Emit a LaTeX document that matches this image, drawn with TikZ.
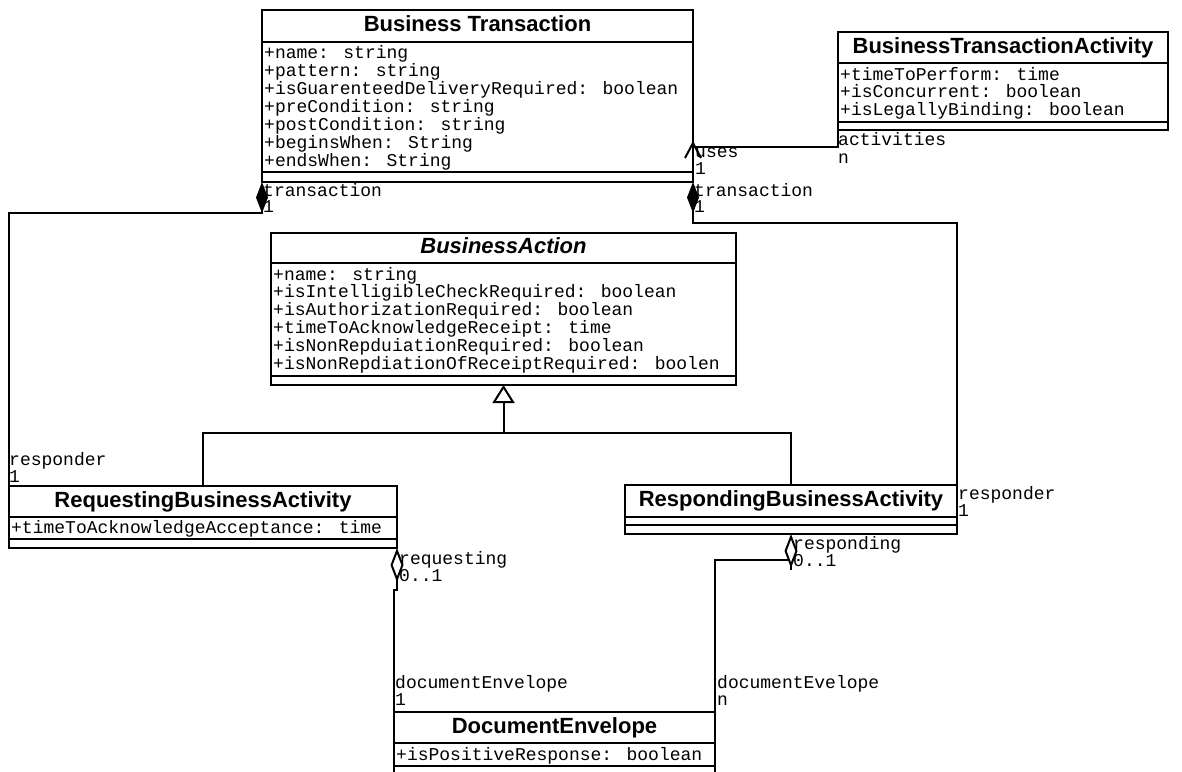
\documentclass[tikz,border=0pt]{standalone}
\usepackage{fontspec}
\setmainfont{Liberation Sans}
\newfontfamily\umlmono{Liberation Mono}
\usetikzlibrary{arrows.meta}
\begin{document}
\begin{tikzpicture}[x=1pt,y=-1pt,
  hdr/.style={draw, line width=2pt, inner sep=0pt, outer sep=0pt, anchor=north west,
    font=\fontsize{22}{26}\selectfont\bfseries, text height=15.8pt, text depth=4.2pt},
  cmp/.style={draw, line width=2pt, inner sep=0pt, outer sep=0pt, anchor=north west},
  attr/.style={inner sep=0pt, anchor=base west, font=\umlmono\fontsize{18}{18}\selectfont},
  conn/.style={line width=2pt},
  filldia/.style={-{Diamond[length=31pt,width=12pt]}},
  opendia/.style={-{Diamond[length=34pt,width=13pt,fill=white]}},
  gentri/.style={-{Triangle[length=18pt,width=22pt,fill=white]}}
]
\path[use as bounding box, fill=white] (0,0) rectangle (1182,771);

% Business Transaction
\node[hdr, minimum width=431pt, minimum height=32pt] (bth) at (262,10) {Business Transaction};
\node[cmp, minimum width=431pt, minimum height=130pt] (bta) at (bth.south west) {};
\node[cmp, minimum width=431pt, minimum height=10pt] (bto) at (bta.south west) {};
\foreach \t [count=\i] in {{+name: string},{+pattern: string},{+isGuarenteedDeliveryRequired: boolean},{+preCondition: string},{+postCondition: string},{+beginsWhen: String},{+endsWhen: String}}
  \node[attr] (bttxt\i) at (264,{58+18*(\i-1)}) {\t};

% BusinessTransactionActivity
\node[hdr, minimum width=330pt, minimum height=31pt] (btah) at (838,32) {BusinessTransactionActivity};
\node[cmp, minimum width=330pt, minimum height=59pt] (btaa) at (btah.south west) {};
\node[cmp, minimum width=330pt, minimum height=8pt] (btao) at (btaa.south west) {};
\foreach \t [count=\i] in {{+timeToPerform: time},{+isConcurrent: boolean},{+isLegallyBinding: boolean}}
  \node[attr] (btatxt\i) at (840,{80+17.5*(\i-1)}) {\t};

% BusinessAction
\node[hdr, minimum width=465pt, minimum height=30pt, font=\fontsize{22}{26}\selectfont\bfseries\itshape] (bah) at (271,233) {BusinessAction};
\node[cmp, minimum width=465pt, minimum height=113pt] (baa) at (bah.south west) {};
\node[cmp, minimum width=465pt, minimum height=9pt] (bao) at (baa.south west) {};
\foreach \t [count=\i] in {{+name: string},{+isIntelligibleCheckRequired: boolean},{+isAuthorizationRequired: boolean},{+timeToAcknowledgeReceipt: time},{+isNonRepduiationRequired: boolean},{+isNonRepdiationOfReceiptRequired: boolen}}
  \node[attr] (batxt\i) at (273,{280+17.8*(\i-1)}) {\t};

% RequestingBusinessActivity
\node[hdr, minimum width=388pt, minimum height=31pt] (rqh) at (9,486) {RequestingBusinessActivity};
\node[cmp, minimum width=388pt, minimum height=22pt] (rqa) at (rqh.south west) {};
\node[cmp, minimum width=388pt, minimum height=9pt] (rqo) at (rqa.south west) {};
\node[attr] (rqtxt) at (11,533) {+timeToAcknowledgeAcceptance: time};

% RespondingBusinessActivity
\node[hdr, minimum width=332pt, minimum height=32pt] (rsh) at (625,485) {RespondingBusinessActivity};
\node[cmp, minimum width=332pt, minimum height=8pt] (rsa) at (rsh.south west) {};
\node[cmp, minimum width=332pt, minimum height=9pt] (rso) at (rsa.south west) {};

% DocumentEnvelope
\node[hdr, minimum width=321pt, minimum height=31pt] (deh) at (394,712) {DocumentEnvelope};
\node[cmp, minimum width=321pt, minimum height=23pt] (dea) at (deh.south west) {};
\node[cmp, minimum width=321pt, minimum height=20pt] (deo) at (dea.south west) {};
\node[attr] (detxt) at (396,760) {+isPositiveResponse: boolean};

% uses association
\coordinate (usesB) at (693,147);
\coordinate (usesTip) at (693,143);
\draw[conn] (btao.south west) |- (usesB) -- (usesTip);
\draw[conn] ([xshift=-8pt,yshift=-15pt]usesTip) -- (usesTip) -- ([xshift=8pt,yshift=-15pt]usesTip);

% compositions
\coordinate (lcj) at (262,213);
\draw[conn, filldia] (rqh.north west) |- (lcj) -- (bto.south west);
\coordinate (rcj) at (693,223);
\draw[conn, filldia] (rsh.north east) |- (rcj) -- (bto.south east);

% generalization
\coordinate (gj) at (bao.south |- 0,433);
\draw[conn] (rqh.north) |- (gj) -| (rsh.north);
\draw[conn, gentri] (gj) -- (bao.south);

% aggregations
\coordinate (rqj) at (397,590);
\draw[conn, opendia] (deh.north west) |- (rqj) -- (rqo.south east);
\coordinate (rsj) at (788,560);
\draw[conn] (deh.north east) |- (rsj);
\coordinate (rsd) at (791,570);
\draw[conn, opendia] (rsd) -- (rso.south);

% role labels
\node[attr] (l1) at (695,157) {uses};
\node[attr] (l2) at (695,174) {1};
\node[attr] (l3) at (838,145) {activities};
\node[attr] (l4) at (838,163) {n};
\node[attr] (l5) at (263,196) {transaction};
\node[attr] (l6) at (263,212) {1};
\node[attr] (l7) at (694,196) {transaction};
\node[attr] (l8) at (694,212) {1};
\node[attr] (l9) at (9,465) {responder};
\node[attr] (l10) at (9,482) {1};
\node[attr] (l11) at (958,499) {responder};
\node[attr] (l12) at (958,516) {1};
\node[attr] (l13) at (399,564) {requesting};
\node[attr] (l14) at (399,581) {0..1};
\node[attr] (l15) at (793,549) {responding};
\node[attr] (l16) at (793,566) {0..1};
\node[attr] (l17) at (395,688) {documentEnvelope};
\node[attr] (l18) at (395,705) {1};
\node[attr] (l19) at (717,688) {documentEvelope};
\node[attr] (l20) at (717,705) {n};
\end{tikzpicture}
\end{document}
